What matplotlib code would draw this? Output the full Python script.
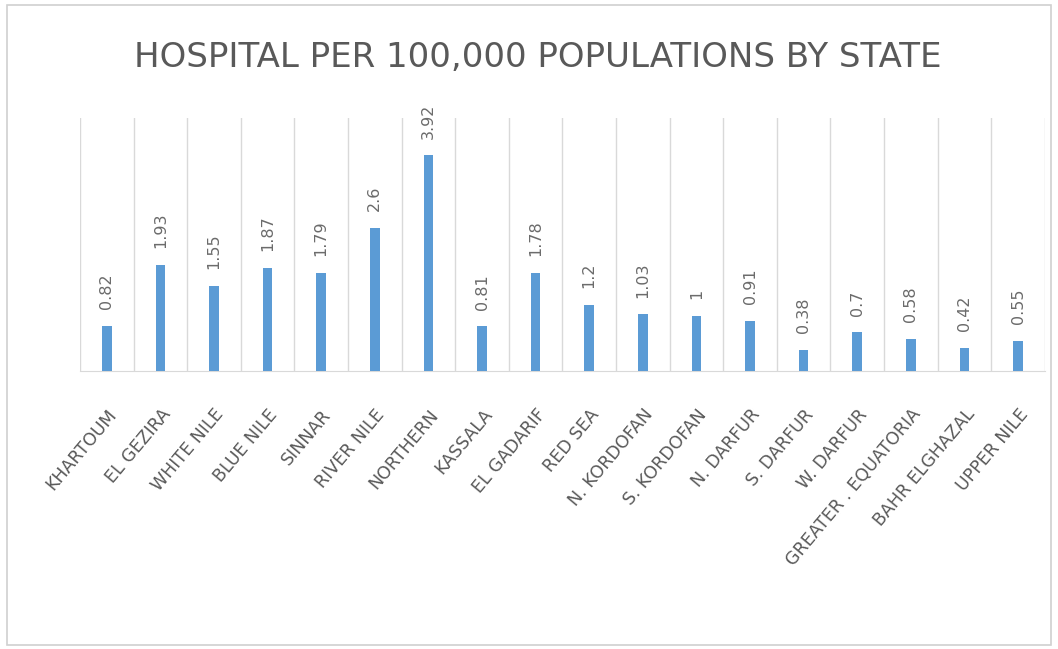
import matplotlib.pyplot as plt
from matplotlib.patches import Rectangle
import numpy as np

states = ['KHARTOUM', 'EL GEZIRA', 'WHITE NILE', 'BLUE NILE', 'SINNAR', 'RIVER NILE',
          'NORTHERN', 'KASSALA', 'EL GADARIF', 'RED SEA', 'N. KORDOFAN', 'S. KORDOFAN',
          'N. DARFUR', 'S. DARFUR', 'W. DARFUR', 'GREATER . EQUATORIA',
          'BAHR ELGHAZAL', 'UPPER NILE']
values = [0.82, 1.93, 1.55, 1.87, 1.79, 2.6, 3.92, 0.81, 1.78, 1.2, 1.03, 1,
          0.91, 0.38, 0.7, 0.58, 0.42, 0.55]
labels = ['0.82', '1.93', '1.55', '1.87', '1.79', '2.6', '3.92', '0.81', '1.78', '1.2',
          '1.03', '1', '0.91', '0.38', '0.7', '0.58', '0.42', '0.55']

grey = '#595959'
bar_color = '#5B9BD5'

fig = plt.figure(figsize=(10.58, 6.49), dpi=100)
ax = fig.add_axes([0.0756, 0.4284, 0.912, 0.3898])

x = np.arange(len(states))
ax.bar(x, values, width=0.18, color=bar_color, zorder=3)
ax.set_xlim(-0.5, len(states) - 0.5)
ax.set_ylim(0, 4.6)

# category separators
for b in np.arange(-0.5, len(states), 1.0):
    ax.axvline(b, color='#d9d9d9', lw=1, zorder=1)

for xi, v, t in zip(x, values, labels):
    ax.annotate(t, (xi, v), xytext=(0, 12), textcoords='offset points',
                rotation=90, ha='center', va='bottom', fontsize=11.5, color='#6b6b6b')

ax.set_xticks(x)
ax.set_xticklabels(states, rotation=50, ha='right', rotation_mode='anchor',
                   fontsize=12.5, color=grey)
ax.tick_params(axis='x', length=0, pad=25)
ax.set_yticks([])
for s in ['left', 'right', 'top']:
    ax.spines[s].set_visible(False)
ax.spines['bottom'].set_color('#d9d9d9')

fig.text(0.508, 0.912, 'HOSPITAL PER 100,000 POPULATIONS BY STATE', ha='center', va='center',
         fontsize=24.5, color=grey)

fig.patches.append(Rectangle((0.007, 0.006), 0.986, 0.986, transform=fig.transFigure,
                             fill=False, edgecolor='#d0d0d0', lw=1.2))

fig.savefig('out.png', dpi=100)
